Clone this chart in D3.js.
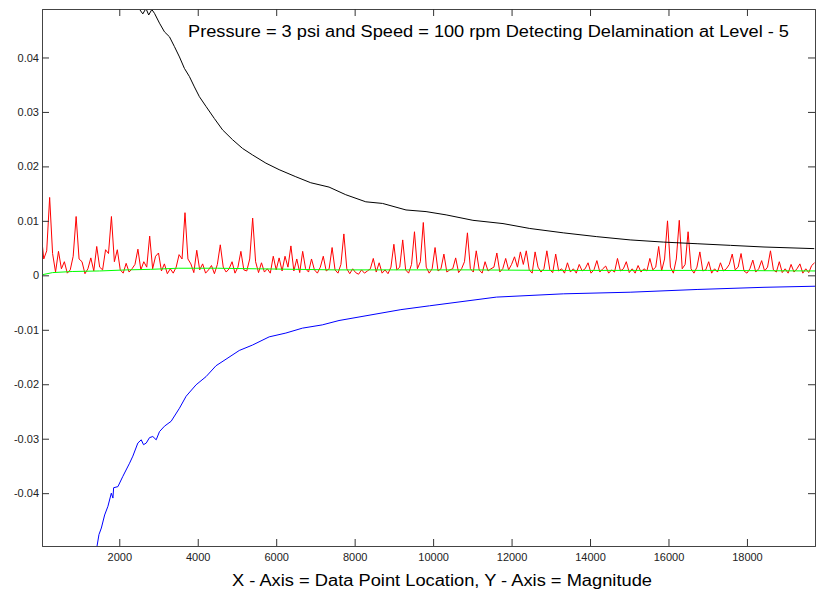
<!DOCTYPE html>
<html>
<head>
<meta charset="utf-8">
<script src="https://cdnjs.cloudflare.com/ajax/libs/d3/7.8.5/d3.min.js"></script>
<style>
  body { margin: 0; background: #fff; }
  #chart text { font-family: "Liberation Sans", Arial, sans-serif; }
</style>
</head>
<body>
<div id="chart"></div>
<script>
// x ticks and y ticks
var xTicks = [2000, 4000, 6000, 8000, 10000, 12000, 14000, 16000, 18000];
var yTicks = [-0.04, -0.03, -0.02, -0.01, 0, 0.01, 0.02, 0.03, 0.04];

// upper envelope (black): [data point, magnitude]
var upperX = [2300, 2450, 2520, 2600, 2680, 2750, 2830, 2898, 3025, 3152, 3279, 3406, 3534, 3660, 3788, 3915,
  4042, 4212, 4423, 4634, 4888, 5142, 5397, 5737, 6075, 6500, 6881, 7347, 7773, 8284, 8711, 9309,
  9820, 10331, 11015, 11782, 12464, 13318, 14172, 15023, 15878, 16729, 17583, 18435, 19716];
var upperY = [0.0520, 0.0495, 0.0488, 0.0480, 0.0490, 0.0478, 0.0488, 0.0481, 0.0463, 0.0447, 0.0438, 0.0420, 0.0401, 0.0380, 0.0365, 0.0346,
  0.0328, 0.0310, 0.0288, 0.0267, 0.0249, 0.0233, 0.0221, 0.0206, 0.0194, 0.0181, 0.0170, 0.0162, 0.0148, 0.0135, 0.0132, 0.0120,
  0.0117, 0.0111, 0.0101, 0.0095, 0.0086, 0.0078, 0.0071, 0.0065, 0.0061, 0.0058, 0.0055, 0.0052, 0.0049];

// lower envelope (blue)
var lowerX = [1250, 1420, 1431, 1482, 1543, 1627, 1711, 1797, 1838, 1856, 1965, 2092, 2262, 2346, 2473, 2560,
  2618, 2687, 2771, 2855, 2941, 3025, 3152, 3322, 3534, 3704, 3958, 4212, 4466, 4721, 5059, 5397,
  5821, 6246, 6668, 7176, 7601, 9179, 9906, 11612, 13318, 15023, 16729, 18435, 19751];
var lowerY = [-0.0515, -0.0500, -0.0498, -0.0476, -0.0464, -0.0440, -0.0424, -0.0400, -0.0409, -0.0390, -0.0388, -0.0369, -0.0345, -0.0332, -0.0308, -0.0302,
  -0.0311, -0.0308, -0.0298, -0.0296, -0.0302, -0.0287, -0.0277, -0.0268, -0.0244, -0.0222, -0.0201, -0.0186, -0.0166, -0.0154, -0.0138, -0.0128,
  -0.0113, -0.0106, -0.0097, -0.0091, -0.0083, -0.0063, -0.0056, -0.0040, -0.0034, -0.0031, -0.0026, -0.0022, -0.0020];

// mean level (green)
var meanX = [30, 300, 800, 1500, 2200, 2800, 3500, 4500, 5500, 6500, 7500, 9000, 11000, 13000, 15000, 17000, 19735];
var meanY = [0.0001, 0.0005, 0.0007, 0.0008, 0.0010, 0.0011, 0.0013, 0.0013, 0.0012, 0.0011, 0.0010, 0.0010, 0.0010, 0.0009, 0.0009, 0.0009, 0.0008];

// signal (red), one value every 75 data points
var signalStep = 75;
var signal = [
  0.0083, 0.0030, 0.0045, 0.0143, 0.0040, 0.0006, 0.0044, 0.0012, 0.0025, 0.0004,
  0.0010, 0.0035, 0.0108, 0.0030, 0.0025, 0.0003, 0.0012, 0.0032, 0.0008, 0.0053,
  0.0015, 0.0010, 0.0047, 0.0040, 0.0108, 0.0025, 0.0047, 0.0010, 0.0004, 0.0022,
  0.0006, 0.0012, 0.0020, 0.0048, 0.0010, 0.0025, 0.0015, 0.0072, 0.0012, 0.0035,
  0.0041, 0.0008, 0.0021, 0.0003, 0.0012, 0.0004, 0.0015, 0.0038, 0.0030, 0.0115,
  0.0030, 0.0021, 0.0005, 0.0046, 0.0010, 0.0021, 0.0004, 0.0010, 0.0018, 0.0003,
  0.0020, 0.0056, 0.0015, 0.0006, 0.0012, 0.0025, 0.0004, 0.0015, 0.0044, 0.0010,
  0.0008, 0.0030, 0.0105, 0.0025, 0.0005, 0.0023, 0.0006, 0.0012, 0.0004, 0.0035,
  0.0010, 0.0032, 0.0008, 0.0035, 0.0015, 0.0054, 0.0008, 0.0030, 0.0005, 0.0044,
  0.0012, 0.0006, 0.0030, 0.0010, 0.0004, 0.0015, 0.0035, 0.0008, 0.0012, 0.0051,
  0.0010, 0.0004, 0.0020, 0.0076, 0.0012, 0.0003, 0.0012, 0.0005, 0.0002, 0.0010,
  0.0004, 0.0008, 0.0012, 0.0031, 0.0006, 0.0023, 0.0004, 0.0010, 0.0003, 0.0015,
  0.0057, 0.0010, 0.0015, 0.0065, 0.0010, 0.0004, 0.0020, 0.0080, 0.0012, 0.0025,
  0.0097, 0.0015, 0.0004, 0.0012, 0.0051, 0.0008, 0.0012, 0.0039, 0.0006, 0.0010,
  0.0012, 0.0032, 0.0005, 0.0012, 0.0025, 0.0078, 0.0012, 0.0006, 0.0045, 0.0010,
  0.0004, 0.0025, 0.0008, 0.0012, 0.0015, 0.0041, 0.0006, 0.0012, 0.0031, 0.0010,
  0.0020, 0.0034, 0.0015, 0.0043, 0.0020, 0.0045, 0.0010, 0.0004, 0.0043, 0.0015,
  0.0006, 0.0012, 0.0045, 0.0010, 0.0005, 0.0039, 0.0008, 0.0012, 0.0004, 0.0023,
  0.0006, 0.0012, 0.0004, 0.0020, 0.0008, 0.0012, 0.0023, 0.0004, 0.0010, 0.0027,
  0.0006, 0.0012, 0.0017, 0.0004, 0.0010, 0.0006, 0.0031, 0.0008, 0.0012, 0.0025,
  0.0005, 0.0012, 0.0004, 0.0018, 0.0006, 0.0012, 0.0008, 0.0031, 0.0010, 0.0015,
  0.0053, 0.0008, 0.0030, 0.0100, 0.0015, 0.0004, 0.0030, 0.0101, 0.0012, 0.0020,
  0.0080, 0.0012, 0.0004, 0.0015, 0.0043, 0.0008, 0.0010, 0.0025, 0.0004, 0.0012,
  0.0006, 0.0023, 0.0008, 0.0012, 0.0020, 0.0039, 0.0010, 0.0015, 0.0040, 0.0008,
  0.0004, 0.0012, 0.0028, 0.0006, 0.0012, 0.0027, 0.0008, 0.0015, 0.0045, 0.0010,
  0.0006, 0.0025, 0.0005, 0.0012, 0.0004, 0.0020, 0.0006, 0.0012, 0.0021, 0.0004,
  0.0012, 0.0005, 0.0018, 0.0023
];

var titleText = "Pressure = 3 psi and Speed = 100 rpm Detecting Delamination at Level - 5";
var xLabelText = "X - Axis = Data Point Location, Y - Axis = Magnitude";

var margin = { left: 42, right: 2, top: 9, bottom: 57 };
var width = 817 - margin.left - margin.right;
var height = 603 - margin.top - margin.bottom;

var svg = d3.select("#chart")
  .append("svg")
  .attr("width", 817)
  .attr("height", 603);

var g = svg.append("g")
  .attr("transform", "translate(" + margin.left + ", " + margin.top + ")");

var x = d3.scaleLinear()
  .domain([30, 19735])
  .range([0, width]);

var y = d3.scaleLinear()
  .domain([-0.0497, 0.0489])
  .range([height, 0]);

svg.append("defs").append("clipPath")
  .attr("id", "plot-clip")
  .append("rect")
  .attr("width", width)
  .attr("height", height);

var line = d3.line()
  .x(function (d) { return x(d[0]); })
  .y(function (d) { return y(d[1]); });

var plot = g.append("g").attr("clip-path", "url(#plot-clip)");

function pairs(xs, ys) {
  return xs.map(function (v, i) { return [v, ys[i]]; });
}

var signalData = signal.map(function (v, i) { return [i * signalStep, v]; });

plot.append("path")
  .datum(signalData)
  .attr("d", line)
  .attr("fill", "none")
  .attr("stroke", "#ff0000")
  .attr("stroke-width", 1);

plot.append("path")
  .datum(pairs(meanX, meanY))
  .attr("d", line)
  .attr("fill", "none")
  .attr("stroke", "#00ff00")
  .attr("stroke-width", 1);

plot.append("path")
  .datum(pairs(upperX, upperY))
  .attr("d", line)
  .attr("fill", "none")
  .attr("stroke", "#000000")
  .attr("stroke-width", 1);

plot.append("path")
  .datum(pairs(lowerX, lowerY))
  .attr("d", line)
  .attr("fill", "none")
  .attr("stroke", "#0000ff")
  .attr("stroke-width", 1);

// Axes: MATLAB style, ticks pointing inward on all four sides
var tickLen = 7;

g.append("g")
  .attr("class", "x axis")
  .attr("transform", "translate(0, " + height + ")")
  .call(d3.axisBottom(x).tickValues(xTicks).tickSize(-tickLen).tickPadding(7)
    .tickFormat(d3.format("d")));

g.append("g")
  .attr("class", "x axis top")
  .call(d3.axisTop(x).tickValues(xTicks).tickSize(-tickLen).tickFormat(""));

g.append("g")
  .attr("class", "y axis")
  .call(d3.axisLeft(y).tickValues(yTicks).tickSize(-tickLen).tickPadding(3)
    .tickFormat(function (d) { return d === 0 ? "0" : d.toFixed(2); }));

g.append("g")
  .attr("class", "y axis right")
  .attr("transform", "translate(" + width + ", 0)")
  .call(d3.axisRight(y).tickValues(yTicks).tickSize(-tickLen).tickFormat(""));

g.selectAll(".axis path")
  .attr("stroke", "#444");
g.selectAll(".axis line")
  .attr("stroke", "#333");
g.selectAll(".axis text")
  .attr("font-size", "11px")
  .attr("fill", "#222");

svg.append("text")
  .attr("x", 188)
  .attr("y", 37)
  .attr("font-size", "16px")
  .attr("textLength", 601)
  .attr("lengthAdjust", "spacingAndGlyphs")
  .attr("fill", "#000")
  .text(titleText);

svg.append("text")
  .attr("x", 232)
  .attr("y", 586)
  .attr("font-size", "16px")
  .attr("textLength", 420)
  .attr("lengthAdjust", "spacingAndGlyphs")
  .attr("fill", "#000")
  .text(xLabelText);
</script>
</body>
</html>
